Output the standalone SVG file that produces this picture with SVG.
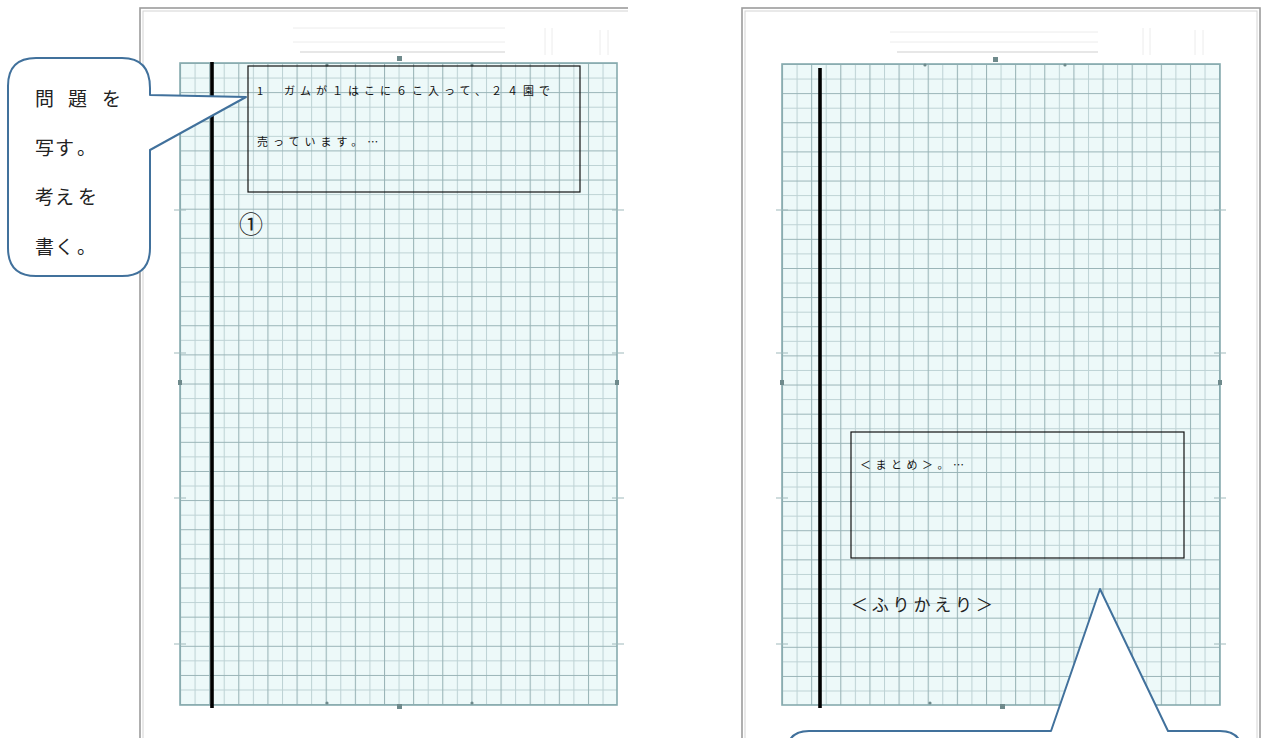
<svg xmlns="http://www.w3.org/2000/svg" width="1266" height="738" viewBox="0 0 1266 738">
<style>
.frame{fill:#ffffff;stroke:#9c9c9c;stroke-width:1.6}
.frame2{fill:none;stroke:#d4d4d4;stroke-width:1}
.gridborder{fill:none;stroke:#86abae;stroke-width:1.6}
.spine{stroke:#000;stroke-width:3.6}
.box{fill:none;stroke:#111;stroke-width:1.2}
.callout{fill:#ffffff;stroke:#41719c;stroke-width:2;stroke-linejoin:round}
.ct{font-family:"Noto Sans CJK JP","Liberation Serif",sans-serif;font-size:19px;fill:#222}
.bt{font-family:"Noto Sans CJK JP","Liberation Serif",sans-serif;font-size:11px;fill:#111;letter-spacing:5px}
.faint{stroke:#ececec;stroke-width:1;fill:none}
.mark{fill:#6f8a8c}
</style>
<defs>
<pattern id="gL" patternUnits="userSpaceOnUse" x="180" y="63" width="29.14" height="29.14">
<rect width="29.14" height="29.14" fill="#edf9f9"/>
<path d="M15.07 0V29.14M0 15.07H29.14" stroke="#bdd2d4" stroke-width="1"/>
<path d="M0.5 0V29.14M0 0.5H29.14" stroke="#98b3b6" stroke-width="1.1"/>
</pattern>
<pattern id="gR" patternUnits="userSpaceOnUse" x="782" y="64" width="29.14" height="29.14">
<rect width="29.14" height="29.14" fill="#edf9f9"/>
<path d="M15.07 0V29.14M0 15.07H29.14" stroke="#bdd2d4" stroke-width="1"/>
<path d="M0.5 0V29.14M0 0.5H29.14" stroke="#98b3b6" stroke-width="1.1"/>
</pattern>
</defs>
<rect width="1266" height="738" fill="#ffffff"/>

<g id="page-left">
<rect class="frame" x="140" y="8" width="500" height="760"/>
<rect class="frame2" x="143" y="11" width="494" height="760"/>
<rect x="628" y="0" width="20" height="738" fill="#ffffff"/>
<path class="faint" d="M293 28H505M293 42H505"/>
<path d="M300 52H505" stroke="#cfcfcf" stroke-width="1"/>
<path class="faint" d="M545 28V55M552 28V55M600 30V55M608 30V55"/>
<rect x="180" y="63" width="437" height="642" fill="url(#gL)"/>
<rect class="gridborder" x="180" y="63" width="437" height="642"/>
<rect class="mark" x="397" y="56" width="5" height="5"/>
<rect class="mark" x="397" y="704" width="5" height="5"/>
<circle class="mark" cx="327" cy="65" r="1.6"/>
<circle class="mark" cx="472" cy="65" r="1.6"/>
<circle class="mark" cx="327" cy="703" r="1.6"/>
<circle class="mark" cx="472" cy="703" r="1.6"/>
<rect class="mark" x="178" y="380" width="4" height="5"/>
<rect class="mark" x="615" y="380" width="4" height="5"/>
<path d="M174 353H186M174 210H186M174 498H186M174 644H186M612 210H624M612 353H624M612 498H624M612 644H624" stroke="#9fb9bb" stroke-width="1"/>
<line class="spine" x1="212" y1="62" x2="212" y2="708"/>
</g>

<g id="page-right">
<rect class="frame" x="742" y="8" width="518" height="760"/>
<rect class="frame2" x="745" y="11" width="512" height="760"/>
<path class="faint" d="M890 32H1098M890 42H1098"/>
<path d="M897 52H1098" stroke="#cfcfcf" stroke-width="1"/>
<path class="faint" d="M1143 28V55M1150 28V55M1195 30V55M1203 30V55"/>
<rect x="782" y="64" width="438" height="641" fill="url(#gR)"/>
<rect class="gridborder" x="782" y="64" width="438" height="641"/>
<rect class="mark" x="993" y="57" width="5" height="5"/>
<rect class="mark" x="1000" y="704" width="5" height="5"/>
<circle class="mark" cx="925" cy="65" r="1.6"/>
<circle class="mark" cx="1065" cy="65" r="1.6"/>
<circle class="mark" cx="930" cy="703" r="1.6"/>
<circle class="mark" cx="1072" cy="703" r="1.6"/>
<rect class="mark" x="780" y="380" width="4" height="5"/>
<rect class="mark" x="1218" y="380" width="4" height="5"/>
<path d="M776 353H788M776 210H788M776 498H788M776 644H788M1214 210H1226M1214 353H1226M1214 498H1226M1214 644H1226" stroke="#9fb9bb" stroke-width="1"/>
<line class="spine" x1="820" y1="68" x2="820" y2="708"/>
</g>

<g id="box-problem">
<rect class="box" x="248" y="66" width="332" height="126"/>
<text class="bt" x="257" y="95">1　ガムが１はこに６こ入って、２４園で</text>
<text class="bt" x="257" y="146">売っています。…</text>
</g>

<g id="label-circle1">
<text x="239" y="233" font-family="Noto Sans CJK JP, sans-serif" font-size="24" fill="#222">①</text>
</g>

<g id="box-summary">
<rect class="box" x="851" y="432" width="333" height="126"/>
<text class="bt" x="860" y="469" style="letter-spacing:4.5px">＜まとめ＞。…</text>
</g>

<g id="label-furikaeri">
<text x="851" y="611" font-family="Noto Sans CJK JP, sans-serif" font-size="17" fill="#222" letter-spacing="3.8">＜ふりかえり＞</text>
</g>

<g id="callout-left">
<path class="callout" d="M36 58H122Q150 58 150 88V95L246 97L150 150V248Q150 276 122 276H36Q8 276 8 248V86Q8 58 36 58Z"/>
<text class="ct" x="35 68 102" y="106">問題を</text>
<text class="ct" x="35 55 77" y="155">写す。</text>
<text class="ct" x="35 55 78" y="204">考えを</text>
<text class="ct" x="35 55 77" y="254">書く。</text>
</g>

<g id="callout-right">
<path class="callout" d="M787 760V753Q787 731 809 731H1051L1100 589L1168 731H1220Q1242 731 1242 753V760"/>
</g>
</svg>
